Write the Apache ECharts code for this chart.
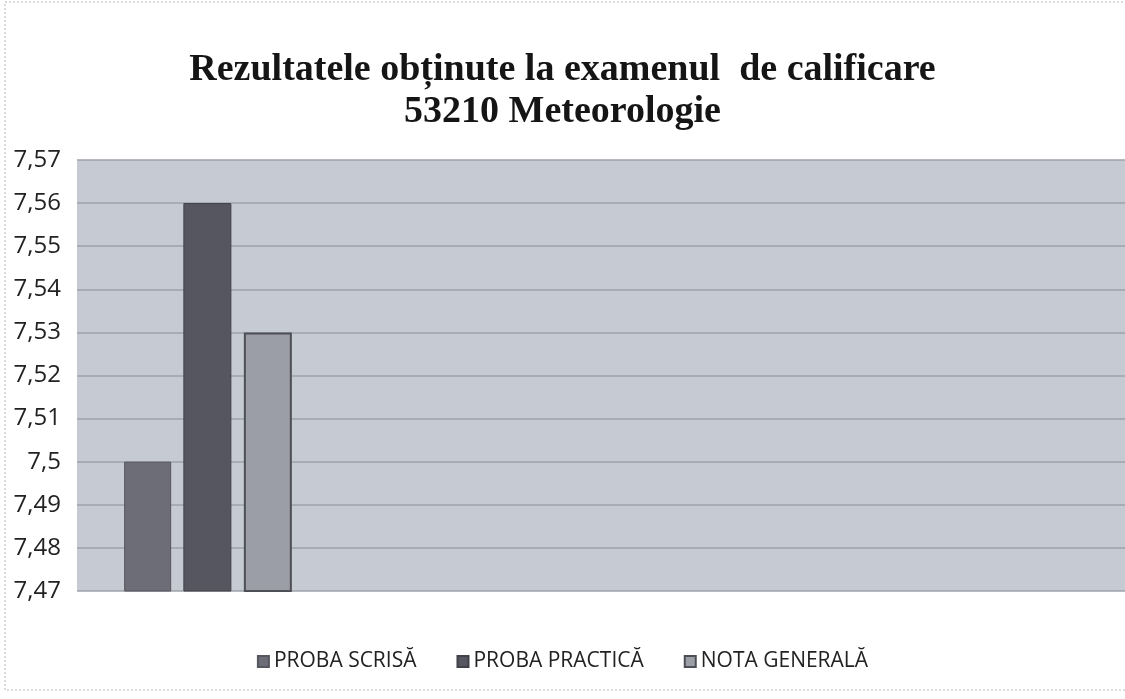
<!DOCTYPE html>
<html>
<head>
<meta charset="utf-8">
<script src="https://cdn.jsdelivr.net/npm/echarts@6/dist/echarts.min.js"></script>
<style>
  html, body { margin: 0; padding: 0; background: #fff; }
  #container { width: 1125px; height: 699px; }
</style>
</head>
<body>
<div id="container"></div>
<script>
var categories = ['', '', '', ''];
var probaScrisa = [7.50, null, null, null];
var probaPractica = [7.56, null, null, null];
var notaGenerala = [7.53, null, null, null];
var seriesNames = ['PROBA SCRISĂ', 'PROBA PRACTICĂ', 'NOTA GENERALĂ'];

var myChart = echarts.init(document.getElementById('container'));

function fmt(v) {
  return String(Number(v.toFixed(2))).replace('.', ',');
}

myChart.setOption({
  backgroundColor: '#fff',
  title: {
    text: 'Rezultatele obținute la examenul  de calificare\n53210 Meteorologie',
    left: 'center',
    top: 44,
    textStyle: {
      fontFamily: 'Liberation Serif',
      fontWeight: 'bold',
      fontSize: 38,
      lineHeight: 42,
      color: '#151515'
    }
  },
  legend: {
    bottom: 22,
    left: 'center',
    itemWidth: 11,
    itemHeight: 11,
    itemGap: 40,
    icon: 'rect',
    textStyle: { fontFamily: 'Open Sans', fontSize: 21, color: '#222' },
    data: seriesNames
  },
  grid: {
    left: 77, right: 0, top: 160, bottom: 108,
    show: true,
    backgroundColor: '#c6cad2',
    borderWidth: 0
  },
  xAxis: {
    type: 'category',
    data: categories,
    axisLine: { show: false },
    axisTick: { show: false },
    axisLabel: { show: false }
  },
  yAxis: {
    type: 'value',
    min: 7.47,
    max: 7.57,
    interval: 0.01,
    axisLine: { show: false },
    axisTick: { show: false },
    axisLabel: {
      formatter: fmt,
      fontFamily: 'Open Sans',
      fontSize: 24,
      color: '#222',
      margin: 16
    },
    splitLine: { show: true, lineStyle: { color: '#9ea2aa', width: 1.5 } }
  },
  series: [
    {
      name: seriesNames[0], type: 'bar', data: probaScrisa,
      barWidth: 47, barGap: '26%',
      itemStyle: { color: '#6c6d76', borderColor: '#55565e', borderWidth: 1 }
    },
    {
      name: seriesNames[1], type: 'bar', data: probaPractica,
      barWidth: 48,
      itemStyle: { color: '#55565f', borderColor: '#404149', borderWidth: 1 }
    },
    {
      name: seriesNames[2], type: 'bar', data: notaGenerala,
      barWidth: 48,
      itemStyle: { color: '#9b9ea6', borderColor: '#4d4e56', borderWidth: 2 }
    }
  ],
  graphic: [{
    type: 'rect',
    shape: { x: 5, y: 2, width: 1130, height: 688 },
    style: { fill: 'none', stroke: '#b8b8b8', lineWidth: 1, lineDash: [2, 2] },
    silent: true
  }]
});
</script>
</body>
</html>
